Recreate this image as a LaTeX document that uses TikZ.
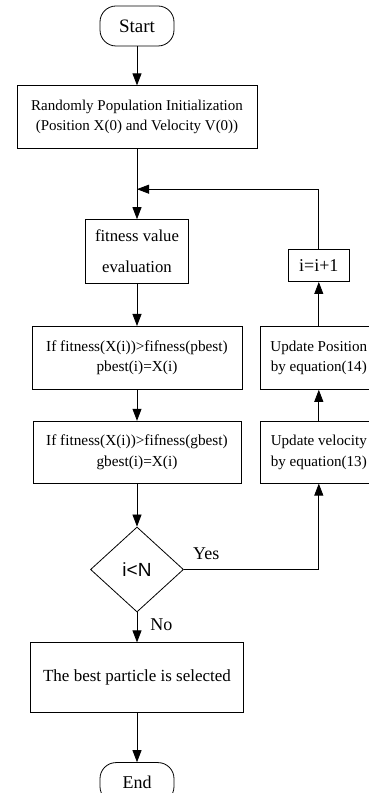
\documentclass[tikz,border=0pt]{standalone}
\usepackage{fontspec}
\setmainfont{Liberation Serif}
\newfontfamily\decfont{Liberation Sans}
\usetikzlibrary{positioning,arrows.meta,shapes.geometric,calc}
\newcommand{\fsz}[1]{\fontsize{#1}{#1}\selectfont}
\tikzset{
  block/.style={draw, line width=0.8pt, align=center, inner sep=2pt},
  term/.style  ={block, rounded corners=16pt, minimum width=74pt,
    minimum height=40pt, font=\fontsize{19}{22}\selectfont},
  proc/.style  ={block, minimum height=63pt,
    font=\fontsize{15.3}{20.5}\selectfont},
  side/.style  ={block, minimum width=116pt, minimum height=63pt,
    font=\fontsize{15.1}{20.5}\selectfont},
  decide/.style={draw, line width=0.8pt, diamond, minimum width=93pt,
    minimum height=85pt, inner sep=0pt, font=\decfont\fsz{19}},
  arr/.style   ={-{Triangle[length=12pt,width=9pt]}, line width=0.8pt},
  tag/.style   ={font=\fsz{18}, inner sep=1pt}
}
\begin{document}
\begin{tikzpicture}[x=1pt, y=1pt, node distance=30pt]
    \useasboundingbox (0,0) rectangle (369,793);

    % ---------- main column ----------
    \node[term] (start) at (137,767) {Start};
    \node[proc, minimum width=240pt, font=\fontsize{15}{20}\selectfont,
      below=39pt of start] (init)
      {Randomly Population Initialization\\(Position X(0) and Velocity V(0))};
    \node[proc, minimum width=103pt, minimum height=64pt,
      font=\fontsize{16.7}{20}\selectfont, below=70pt of init] (fitness)
      {fitness value\\[11pt]evaluation};
    \node[proc, minimum width=210pt, below=42pt of fitness] (pbest)
      {If fitness(X(i))>fifness(pbest)\\pbest(i)=X(i)};
    \node[proc, minimum width=208pt, minimum height=62pt,
      below=31pt of pbest] (gbest)
      {If fitness(X(i))>fifness(gbest)\\gbest(i)=X(i)};
    \node[decide, below=43pt of gbest] (dec) {i<N};
    \node[proc, minimum width=213pt, minimum height=70pt,
      font=\fsz{17}, below=30pt of dec] (best)
      {The best particle is selected};
    \node[term, font=\fsz{18}, below=49pt of best] (end) {End};

    % ---------- update column ----------
    \node[side, minimum height=62pt, right=19pt of gbest] (updvel)
      {Update velocity\\by equation(13)};
    \node[side, above=31pt of updvel] (updpos)
      {Update Position\\by equation(14)};
    \node[block, minimum width=61pt, minimum height=32pt, font=\fsz{18},
      above=44pt of updpos] (inc) {i=i+1};

    \coordinate (merge) at ($(init.south)+(0,-40)$);

    \draw[arr] (start) -- (init);
    \draw[arr] (init) -- (fitness);
    \draw[arr] (fitness) -- (pbest);
    \draw[arr] (pbest) -- (gbest);
    \draw[arr] (gbest) -- (dec);
    \draw[arr] (dec) -- (best)
      node[tag, pos=0.4, right=12pt] (lblno) {No};
    \draw[arr] (best) -- (end);

    % loop back
    \draw[arr] (dec.east) -| (updvel.south);
    \node[tag, above right=9pt and 8pt of dec.east] (lblyes) {Yes};
    \draw[arr] (updvel) -- (updpos);
    \draw[arr] (updpos) -- (inc);
    \draw[arr] (inc.north) |- (merge);

  \end{tikzpicture}
\end{document}
